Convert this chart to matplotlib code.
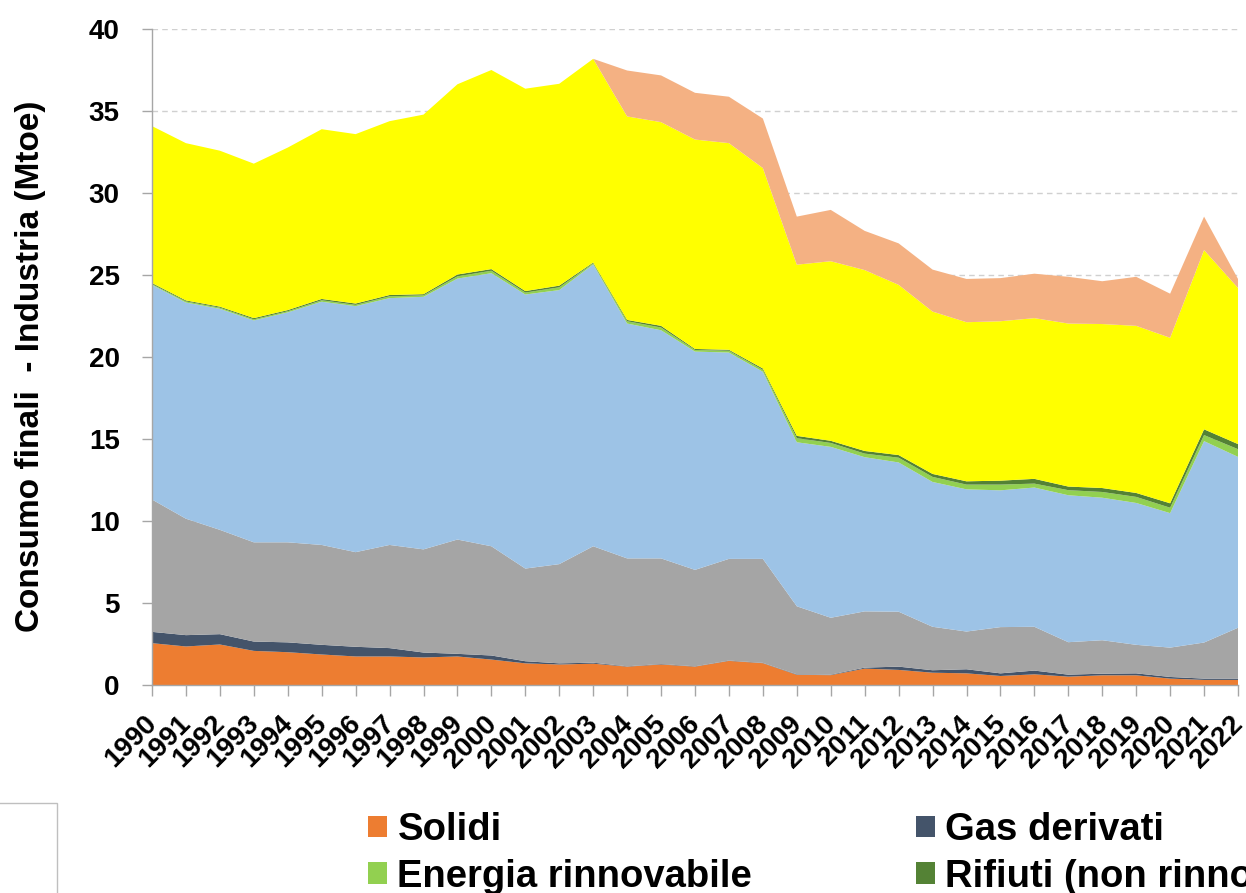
import matplotlib
matplotlib.use("Agg")
import matplotlib.pyplot as plt
import matplotlib.transforms as mtransforms
from matplotlib.patches import Patch, Rectangle

plt.rcParams['font.family'] = ['Liberation Sans', 'DejaVu Sans']
plt.rcParams['font.weight'] = 'bold'

years = list(range(1990, 2023))
year_labels = [str(y) for y in years]

solidi = [2.55, 2.35, 2.47, 2.08, 2.00, 1.86, 1.74, 1.74, 1.68, 1.74, 1.55, 1.32, 1.25, 1.30,
          1.12, 1.25, 1.12, 1.47, 1.33, 0.62, 0.60, 1.00, 0.92, 0.75, 0.71, 0.55, 0.65, 0.51,
          0.59, 0.59, 0.39, 0.31, 0.31]
gas_derivati = [0.69, 0.69, 0.63, 0.57, 0.60, 0.59, 0.59, 0.51, 0.30, 0.16, 0.25, 0.13, 0.07, 0.06,
                0.02, 0.03, 0.02, 0.02, 0.02, 0.03, 0.03, 0.06, 0.20, 0.15, 0.25, 0.16, 0.23, 0.12,
                0.10, 0.12, 0.10, 0.08, 0.08]
petrolio = [8.07, 7.10, 6.36, 6.05, 6.10, 6.09, 5.77, 6.29, 6.29, 6.97, 6.66, 5.65, 6.05, 7.10,
            6.58, 6.44, 5.88, 6.20, 6.34, 4.15, 3.47, 3.43, 3.35, 2.65, 2.30, 2.82, 2.67, 1.98,
            2.04, 1.74, 1.79, 2.20, 3.10]
gas_naturale = [13.09, 13.18, 13.48, 13.53, 14.02, 14.83, 15.00, 15.05, 15.40, 15.91, 16.65, 16.71,
                16.71, 17.19, 14.32, 13.91, 13.31, 12.58, 11.41, 10.00, 10.42, 9.40, 9.10, 8.83,
                8.67, 8.34, 8.49, 8.96, 8.69, 8.65, 8.20, 12.28, 10.42]
rinnovabile = [0.05, 0.07, 0.07, 0.07, 0.07, 0.09, 0.08, 0.11, 0.09, 0.14, 0.15, 0.12, 0.17, 0.06,
               0.14, 0.17, 0.10, 0.11, 0.12, 0.25, 0.24, 0.22, 0.29, 0.31, 0.29, 0.35, 0.24, 0.31,
               0.35, 0.37, 0.33, 0.37, 0.47]
rifiuti = [0.06, 0.06, 0.06, 0.07, 0.07, 0.08, 0.08, 0.08, 0.07, 0.11, 0.10, 0.09, 0.10, 0.05,
           0.08, 0.10, 0.06, 0.06, 0.08, 0.14, 0.13, 0.16, 0.16, 0.18, 0.20, 0.24, 0.29, 0.22,
           0.24, 0.24, 0.27, 0.35, 0.31]
elettrica = [9.57, 9.59, 9.51, 9.42, 9.91, 10.35, 10.33, 10.60, 10.95, 11.60, 12.14, 12.34, 12.31,
             12.42, 12.41, 12.42, 12.77, 12.60, 12.22, 10.44, 10.95, 11.03, 10.38, 9.90, 9.70,
             9.72, 9.80, 9.94, 10.00, 10.19, 10.09, 10.93, 9.52]
calore = [0, 0, 0, 0, 0, 0, 0, 0, 0, 0, 0, 0, 0, 0,
          2.80, 2.85, 2.85, 2.83, 3.02, 2.93, 3.13, 2.39, 2.53, 2.56, 2.64, 2.63, 2.71, 2.85,
          2.61, 2.99, 2.69, 2.04, 0.55]

series_labels = ["Solidi", "Gas derivati", "Prodotti petroliferi", "Gas naturale",
                 "Energia rinnovabile", "Rifiuti (non rinnovabili)", "Energia elettrica",
                 "Calore derivato"]
colors = ["#ED7D31", "#44546A", "#A5A5A5", "#9DC3E6", "#92D050", "#548235", "#FFFF00", "#F4B183"]
y_ticks = [0, 5, 10, 15, 20, 25, 30, 35, 40]
y_label = "Consumo finali  - Industria (Mtoe)"

fig = plt.figure(figsize=(12.46, 8.93), dpi=100)
ax = fig.add_axes([152 / 1246, 208 / 893, 1086 / 1246, 656 / 893])

ax.stackplot(years, solidi, gas_derivati, petrolio, gas_naturale, rinnovabile, rifiuti,
             elettrica, calore, colors=colors, labels=series_labels, linewidth=0)

ax.set_xlim(years[0], years[-1])
ax.set_ylim(0, 40)
ax.set_axisbelow(True)
ax.yaxis.grid(True, linestyle=(0, (4, 3)), color="#D0D0D0", linewidth=1)

ax.set_yticks(y_ticks)
ax.set_yticklabels([str(v) for v in y_ticks], fontsize=20, fontweight='bold')
ax.set_xticks(years)
ax.set_xticklabels(year_labels, fontsize=20, fontweight='bold', rotation=45,
                   ha='right', va='top', rotation_mode='anchor')
ax.tick_params(axis='y', length=7.2, width=1, color="#A6A6A6", pad=16)
ax.tick_params(axis='x', length=8, width=1, color="#A6A6A6", pad=10.5)
offset = mtransforms.ScaledTranslation(-8 / 100, 0, fig.dpi_scale_trans)
for lbl in ax.get_xticklabels():
    lbl.set_transform(lbl.get_transform() + offset)

for side in ["top", "right"]:
    ax.spines[side].set_visible(False)
for side in ["left", "bottom"]:
    ax.spines[side].set_color("#A6A6A6")
    ax.spines[side].set_linewidth(1)

ax.set_ylabel(y_label, fontsize=24, fontweight='bold', va='center')
ax.yaxis.set_label_coords(31 / 1246, (893 - 366) / 893, transform=fig.transFigure)

handles = [Patch(facecolor=colors[0]), Patch(facecolor=colors[4]),
           Patch(facecolor=colors[1]), Patch(facecolor=colors[5])]
labels = [series_labels[0], series_labels[4], series_labels[1], series_labels[5]]
fig.legend(handles, labels, loc='upper left', bbox_to_anchor=(368 / 1246, 1 - 812 / 893),
           ncol=2, frameon=False, borderpad=0, borderaxespad=0,
           prop={'size': 27.5, 'weight': 'bold'}, handlelength=0.5, handleheight=0.5,
           handletextpad=0.27, columnspacing=4.28, labelspacing=0.28)

fig.patches.append(Rectangle((-0.01, -0.01), 57 / 1246 + 0.01, 90 / 893 + 0.01,
                             transform=fig.transFigure, fill=False,
                             edgecolor="#BFBFBF", linewidth=1))

fig.savefig("out.png", dpi=100)
